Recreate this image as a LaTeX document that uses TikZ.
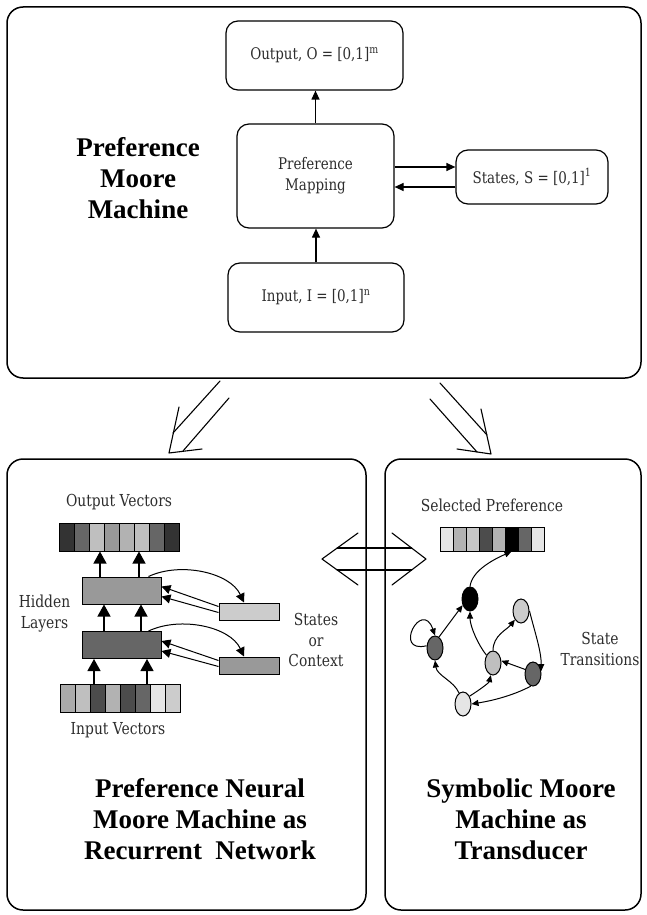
\documentclass[tikz,border=0pt]{standalone}
\usepackage{fontspec}
\setmainfont{Liberation Serif}
\newfontfamily\labelfont[FakeStretch=0.84]{DejaVu Serif}
\usetikzlibrary{arrows.meta, positioning, calc, shapes.geometric}

\definecolor{inkgray}{RGB}{45,45,45}

\begin{document}
\begin{tikzpicture}[
    x=1pt, y=-1pt,
    panel/.style={draw, line width=1.5pt, rounded corners=16pt},
    block/.style={
        rectangle, rounded corners=12pt, draw, line width=1.2pt,
        font=\labelfont\fontsize{16}{21}\selectfont, text=inkgray,
        align=center, inner sep=0pt
    },
    heading/.style={font=\bfseries\fontsize{27}{31}\selectfont, align=center},
    note/.style={font=\labelfont\fontsize{16.5}{20.5}\selectfont, text=inkgray, align=center},
    flow/.style={-{Triangle[length=9pt, width=8pt]}, line width=1.2pt},
    cell/.style={rectangle, draw, line width=1pt, inner sep=0pt},
    hlayer/.style={rectangle, draw, line width=1pt, inner sep=0pt},
    netarrow/.style={-{Triangle[length=12pt, width=13pt]}, line width=1.3pt},
    feedback/.style={-{Triangle[length=9pt, width=9pt]}, line width=1pt},
    stnode/.style={ellipse, draw, line width=1pt, inner sep=0pt, minimum width=16pt, minimum height=24pt},
    trans/.style={-{Triangle[length=7pt, width=6pt]}, line width=1pt},
    hollow/.style={line width=1.1pt, line cap=round, line join=round}
]
    \useasboundingbox (0,0) rectangle (647,915);

    % --- Preference Moore Machine ---
    \draw[panel] (7,7) rectangle (641,378);
    \node[heading] (pmm) at (138,178) {Preference\\Moore\\Machine};

    \node[block, minimum width=177pt, minimum height=69pt] (outbox)   at (314.5,55.5) {Output, O = [0,1]\textsuperscript{m}};
    \node[block, minimum width=157pt, minimum height=104pt] (mapbox)  at (315.5,176)  {Preference\\Mapping};
    \node[block, minimum width=152pt, minimum height=54pt] (statebox) at (532,177)    {States, S = [0,1]\textsuperscript{1}};
    \node[block, minimum width=176pt, minimum height=69pt] (inbox)    at (316,297.5)  {Input, I = [0,1]\textsuperscript{n}};

    \draw[flow] (mapbox.north) -- (mapbox.north |- outbox.south);
    \draw[flow] (inbox.north) -- (inbox.north |- mapbox.south);
    \draw[flow] ([yshift=9pt]mapbox.east) -- ([yshift=9pt]mapbox.east -| statebox.west);
    \draw[flow] ([yshift=-10pt]statebox.west) -- ([yshift=-10pt]statebox.west -| mapbox.east);

    % --- open arrows between the panels ---
    \draw[hollow] (220,381) -- (173,433);
    \draw[hollow] (229,398) -- (183,451);
    \draw[hollow] (179,407) -- (169,453) -- (202,449);

    \draw[hollow] (440,383) -- (487,435);
    \draw[hollow] (430,399) -- (477,452);
    \draw[hollow] (481,409) -- (491,454) -- (457,449);

    \draw[hollow] (358,533) -- (322,559) -- (358,585);
    \draw[hollow] (337.2,548) -- (411.6,548);
    \draw[hollow] (337.2,570) -- (411.6,570);
    \draw[hollow] (392,533) -- (426,559) -- (392,585);

    % --- recurrent network ---
    \draw[panel] (7,459) rectangle (366,910);
    \node[note] (outlbl) at (119,502) {Output Vectors};
    \foreach \p [count=\i] in {80,60,25,40,30,25,60,80}
        \node[cell, fill=black!\p, minimum width=15pt, minimum height=28pt] (out\i) at (51.5+15*\i,537) {};
    \foreach \p [count=\i] in {33,25,70,30,70,60,10,20}
        \node[cell, fill=black!\p, minimum width=15pt, minimum height=28pt] (in\i) at (52.5+15*\i,698) {};
    \node[note] (inlbl) at (118,730) {Input Vectors};

    \node[hlayer, fill=black!40, minimum width=79pt, minimum height=27pt] (hidU) at (121.5,590.5) {};
    \node[hlayer, fill=black!60, minimum width=79pt, minimum height=27pt] (hidL) at (121.5,645) {};
    \node[hlayer, fill=black!20, minimum width=60pt, minimum height=17pt] (ctxU) at (249,611.5) {};
    \node[hlayer, fill=black!40, minimum width=60pt, minimum height=17pt] (ctxL) at (249,665.5) {};

    \node[note] (hidlbl) at (44.5,613.5) {Hidden\\Layers};
    \node[note] (ctxlbl) at (316,640) {States\\or\\Context};

    \foreach \x in {100,139}
        \draw[netarrow] (\x,0 |- hidU.north) -- (\x,0 |- out1.south);
    \foreach \x in {104,141}
        \draw[netarrow] (\x,0 |- hidL.north) -- (\x,0 |- hidU.south);
    \foreach \x in {94,147}
        \draw[netarrow] (\x,0 |- in1.north) -- (\x,0 |- hidL.south);

    % copy each hidden layer into its context and feed it back
    \foreach \h/\c in {hidU/ctxU, hidL/ctxL} {
        \draw[feedback] ([xshift=-13pt]\h.north east) .. controls +(32,-15) and +(-14,-30) .. ([xshift=-5pt]\c.north);
        \draw[feedback] ([yshift=-4pt]\c.north west) -- ([yshift=-10pt]\h.north east);
        \draw[feedback] ([yshift=-10pt]\c.north west) -- ([yshift=-20pt]\h.north east);
    }

    \node[heading] (rnntitle) at (200,819) {Preference Neural\\Moore Machine as\\Recurrent\ \ Network};

    % --- symbolic transducer ---
    \draw[panel] (385,459) rectangle (641,910);
    \node[note] (sellbl) at (492,505) {Selected Preference};
    \foreach \p [count=\i] in {10,30,22,70,30,100,60,10}
        \node[cell, fill=black!\p, minimum width=13pt, minimum height=24pt] (sel\i) at (433.5+13*\i,539) {};

    \node[stnode, fill=black]    (q0) at (470,599) {};
    \node[stnode, fill=black!60] (q1) at (435,648) {};
    \node[stnode, fill=black!10] (q2) at (463,704) {};
    \node[stnode, fill=black!25] (q3) at (493,663) {};
    \node[stnode, fill=black!60] (q4) at (533,674) {};
    \node[stnode, fill=black!20] (q5) at (521,611) {};

    \draw[trans] (q0.north) .. controls +(2,-16) and +(-18,8) .. (sel6.south);
    \draw[trans] (q1.165) .. controls (392,654) and (422,598) .. (q1.north);
    \draw[trans] (q1.70) -- (q0.220);
    \draw[trans] (q2.110) .. controls +(-5,-12) and +(2,15) .. (q1.south);
    \draw[trans] (q2.50) .. controls +(8,-5) and +(-2,8) .. (q3.-100);
    \draw[trans] (q4.-100) .. controls +(-15,8) and +(25,-4) .. (q2.east);
    \draw[trans] (q4.150) -- (q3.15);
    \draw[trans] (q3.north) .. controls +(0,-15) and +(-8,10) .. (q5.235);
    \draw[trans] (q5.east) .. controls +(5,20) and +(0,-20) .. (q4.20);
    \draw[trans] (q3.130) .. controls +(-8,-10) and +(0,15) .. (q0.south);

    \node[note] (translbl) at (600,649) {State\\Transitions};

    \node[heading] (fsttitle) at (521,819) {Symbolic Moore\\Machine as\\Transducer};
\end{tikzpicture}
\end{document}
